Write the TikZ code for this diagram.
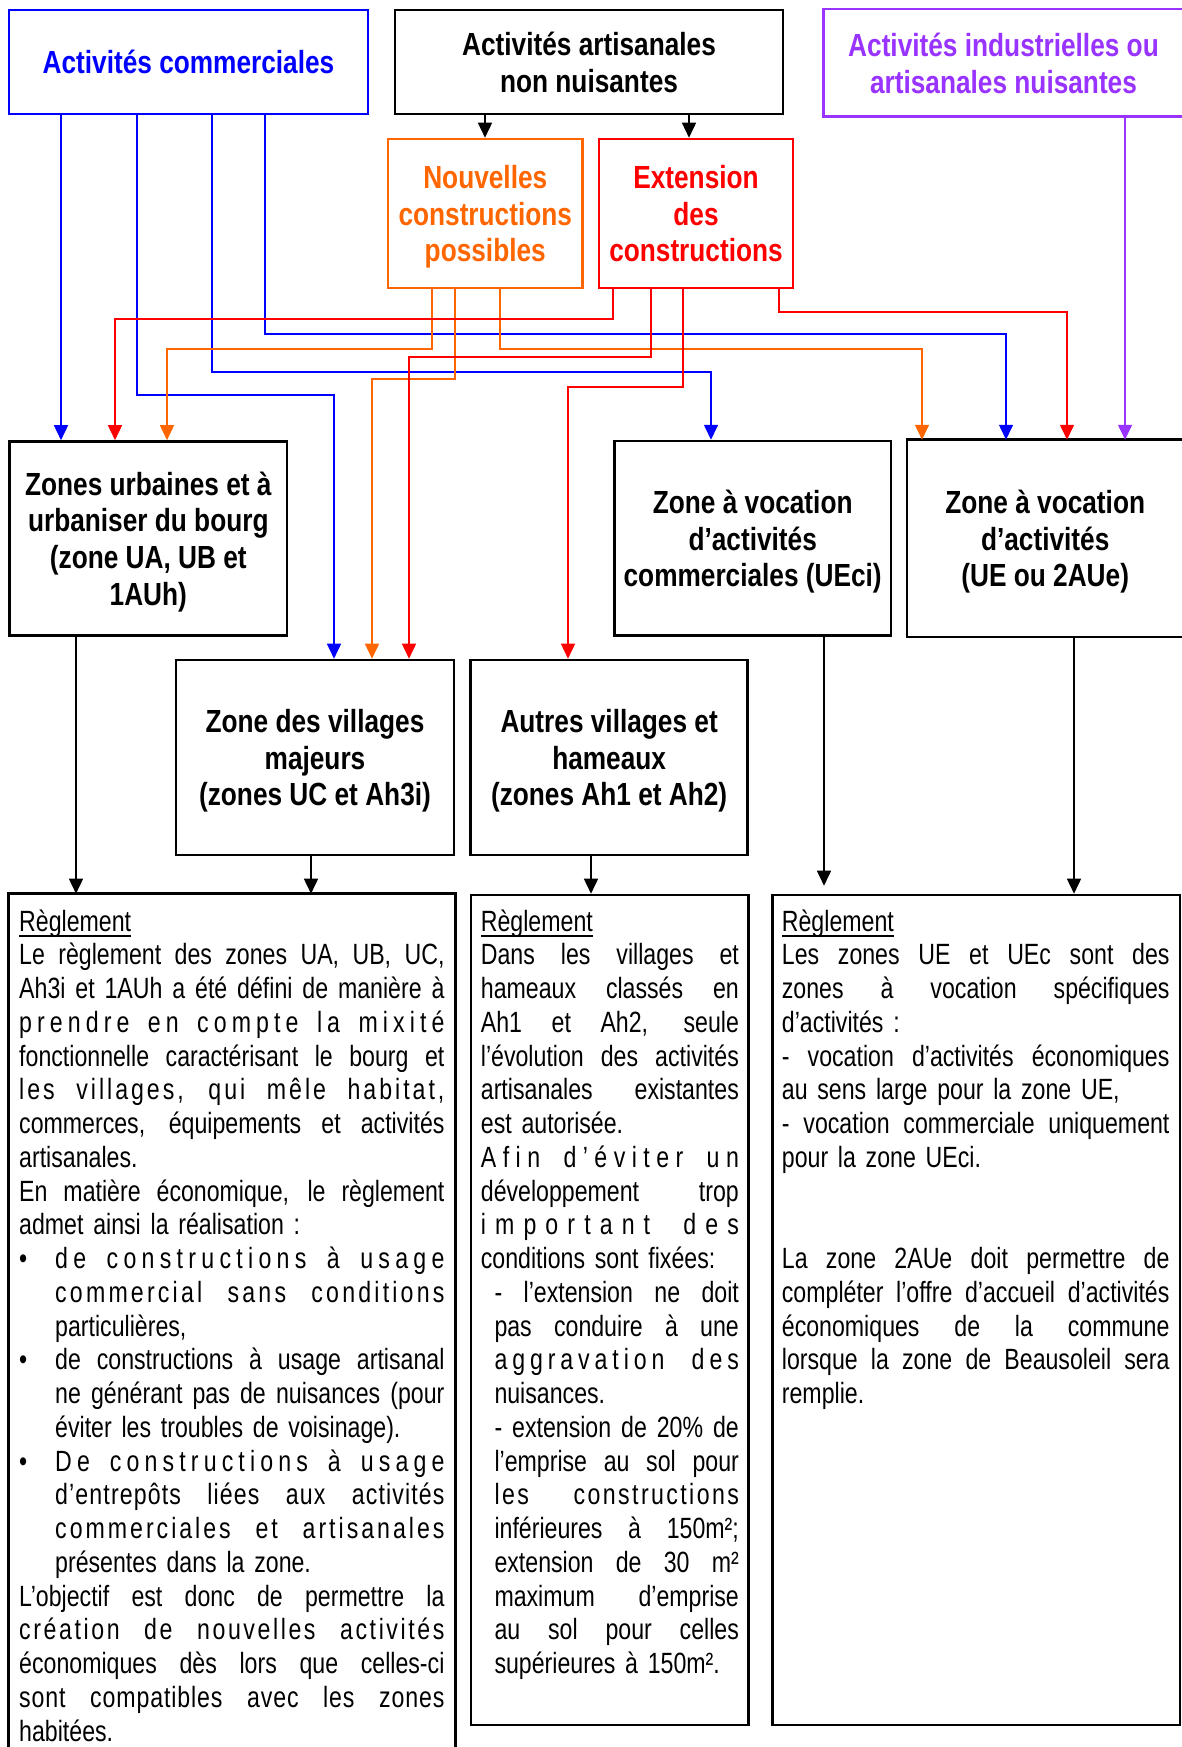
\documentclass[tikz,border=0pt]{standalone}
\usepackage{fontspec}
\setmainfont{Liberation Sans}[FakeStretch=0.79]
\newfontfamily\titlefam{Liberation Sans}[FakeStretch=0.82]
\usetikzlibrary{arrows.meta}

\definecolor{cblue}{RGB}{0,0,255}
\definecolor{corange}{RGB}{255,102,0}
\definecolor{cred}{RGB}{255,0,0}
\definecolor{cpurple}{RGB}{153,51,255}

\newlength\lw
\newcommand\bodyfont{\fontsize{29.3pt}{33.75pt}\selectfont}
\newcommand\titlefont{\titlefam\bfseries\fontsize{32pt}{36.8pt}\selectfont}
\newcommand\ulword[1]{\leavevmode\setbox0\hbox{#1}\rlap{\rule[-5.5pt]{\wd0}{1.8pt}}\box0}
\newcommand\bul{\makebox[36pt][l]{•}}
\newcommand\hind{\hspace*{36pt}}
\newcommand\mind{\hspace*{13.6pt}}

% justified line, and justified line with extra tracking
\ExplSyntaxOn
\box_new:N \l__rg_tmp_box
\fp_new:N \l__rg_wz_fp
\fp_new:N \l__rg_goal_fp
\fp_new:N \g__rg_ls_fp
\fp_new:N \g__rg_wo_fp
\dim_new:N \l__rg_w_dim
\cs_new_protected:Npn \__rg_spaces:
  {
    \spaceskip = \fontdimen2\font plus 1fil \relax
    \xspaceskip = \spaceskip
  }
\cs_new_protected:Npn \__rg_fill:nn #1#2
  {
    \mode_leave_vertical:
    \hbox_to_wd:nn {#1} { \__rg_spaces: #2 }
  }
\cs_new_protected:Npn \__rg_track:n #1
  { \use:e { \exp_not:N \addfontfeature { LetterSpace = \fp_eval:n { round(#1, 3) } } } }
\NewDocumentCommand \jline { O{\lw} m }
  { \__rg_fill:nn {#1} {#2} }
\NewDocumentCommand \sline { O{\lw} m m }
  {
    \dim_set:Nn \l__rg_w_dim {#1}
    \hbox_set:Nn \l__rg_tmp_box { \__rg_spaces: #3 }
    \fp_set:Nn \l__rg_wz_fp { \dim_to_fp:n { \box_wd:N \l__rg_tmp_box } }
    \fp_set:Nn \l__rg_goal_fp { max(0, ( \dim_to_fp:n {\l__rg_w_dim} - \l__rg_wz_fp ) * (#2) ) }
    \fp_gset:Nn \g__rg_ls_fp { \l__rg_goal_fp / ( \tl_count:n {#3} ) / 29.3 * 100 }
    \group_begin:
      \__rg_track:n { \g__rg_ls_fp }
      \hbox_set:Nn \l__rg_tmp_box { \__rg_spaces: #3 }
      \fp_gset:Nn \g__rg_wo_fp { \dim_to_fp:n { \box_wd:N \l__rg_tmp_box } }
    \group_end:
    \fp_compare:nT { \g__rg_wo_fp - \l__rg_wz_fp > 0.01 }
      { \fp_gset:Nn \g__rg_ls_fp { \g__rg_ls_fp * \l__rg_goal_fp / ( \g__rg_wo_fp - \l__rg_wz_fp ) } }
    \group_begin:
      \__rg_track:n { \g__rg_ls_fp }
      \__rg_fill:nn { \l__rg_w_dim } {#3}
    \group_end:
  }
\ExplSyntaxOff

\tikzset{
  box/.style={draw, line width=2.6pt, inner sep=0pt, align=center, font=\titlefont, text depth=0pt},
  conn/.style={line width=1.6pt, line join=miter, -{Triangle[length=15pt,width=14pt]}},
  regtext/.style={anchor=north west, inner sep=0pt, font=\bodyfont},
}

\begin{document}
\begin{tikzpicture}[x=1pt,y=-1pt]
\fill[white] (0,0) rectangle (1182,1747);
\useasboundingbox (0,0) rectangle (1182,1747);

% activity sources
\node[box, draw=cblue, text=cblue, minimum width=359pt, minimum height=104pt] (com) at (188.5,62) {Activités commerciales};
\node[box, minimum width=388pt, minimum height=104pt] (art) at (589,62) {Activités artisanales\\non nuisantes};
\node[box, draw=none, text=cpurple, minimum width=357pt, minimum height=105pt] (ind) at (1003.5,63) {Activités industrielles ou\\artisanales nuisantes};
\draw[cpurple, line width=2.6pt] ([xshift=6pt]ind.north east) -- (ind.north west) -- (ind.south west) -- ([xshift=6pt]ind.south east);

\node[box, draw=corange, text=corange, minimum width=194.5pt, minimum height=149pt] (nou) at (485.25,213.5) {Nouvelles\\constructions\\possibles};
\node[box, draw=cred, text=cred, minimum width=194pt, minimum height=149pt] (ext) at (696,213.5) {Extension\\des\\constructions};

% zones
\node[box, minimum width=277.4pt, minimum height=194.2pt] (zu) at (148.3,538.6) {Zones urbaines et à\\urbaniser du bourg\\(zone UA, UB et\\1AUh)};
\node[box, minimum width=278pt, minimum height=195pt] (vm) at (315,757.5) {Zone des villages\\majeurs\\(zones UC et Ah3i)};
\node[box, minimum width=277pt, minimum height=195pt] (av) at (609.15,757.5) {Autres villages et\\hameaux\\(zones Ah1 et Ah2)};
\node[box, minimum width=276.6pt, minimum height=194.7pt] (uec) at (752.7,538.4) {Zone à vocation\\d’activités\\commerciales (UEci)};
\node[box, draw=none, minimum width=273.6pt, minimum height=194.7pt] (ue) at (1045.2,538.4) {Zone à vocation\\d’activités\\(UE ou 2AUe)};
\draw[line width=2.6pt] ([xshift=6pt]ue.north east) -- (ue.north west) -- (ue.south west) -- ([xshift=6pt]ue.south east);

% rule boxes
\node[box, draw=none, minimum width=444pt, minimum height=852pt] (lreg) at (232,1321) {};
\draw[line width=2.6pt] ([yshift=-6pt]lreg.south west) -- (lreg.north west) -- (lreg.north east) -- ([yshift=-6pt]lreg.south east);
\node[box, minimum width=277.7pt, minimum height=830pt] (mreg) at (609.85,1310) {};
\node[box, minimum width=407.3pt, minimum height=830pt] (rreg) at (976.35,1310) {};

% black links
\draw[conn] (485,0 |- art.south) -- (485,0 |- nou.north);
\draw[conn] (689,0 |- art.south) -- (689,0 |- ext.north);
\draw[conn] (76,0 |- zu.south) -- (76,0 |- lreg.north);
\draw[conn] (311,0 |- vm.south) -- (311,0 |- lreg.north);
\draw[conn] (591,0 |- av.south) -- (591,0 |- mreg.north);
\draw[conn, shorten >=8pt] (824,0 |- uec.south) -- (824,0 |- rreg.north);
\draw[conn] (1074,0 |- ue.south) -- (1074,0 |- rreg.north);

% commercial activities
\draw[conn, cblue] (61,0 |- com.south) -- (61,0 |- zu.north);
\draw[conn, cblue] (137,0 |- com.south) |- (334,395) -- (334,0 |- vm.north);
\draw[conn, cblue] (212,0 |- com.south) |- (711,372) -- (711,0 |- uec.north);
\draw[conn, cblue] (265,0 |- com.south) |- (1006,334) -- (1006,0 |- ue.north);

% new constructions
\draw[conn, corange] (432,0 |- nou.south) |- (167,349) -- (167,0 |- zu.north);
\draw[conn, corange] (455,0 |- nou.south) |- (372,379) -- (372,0 |- vm.north);
\draw[conn, corange] (500,0 |- nou.south) |- (922,349) -- (922,0 |- ue.north);

% extensions
\draw[conn, cred] (613,0 |- ext.south) |- (115,319) -- (115,0 |- zu.north);
\draw[conn, cred] (651,0 |- ext.south) |- (409,357) -- (409,0 |- vm.north);
\draw[conn, cred] (683,0 |- ext.south) |- (568,387) -- (568,0 |- av.north);
\draw[conn, cred] (779,0 |- ext.south) |- (1067,312) -- (1067,0 |- ue.north);

% nuisance activities
\draw[conn, cpurple] (1125,0 |- ind.south) -- (1125,0 |- ue.north);

% rule texts
\node[regtext, text width=425.3pt] (ltxt) at (19,907.4) {%
\setlength\lw{425.3pt}\setlength\parindent{0pt}\setlength\parskip{0pt}%
\ulword{Règlement}\strut\par
\jline{Le règlement des zones UA, UB, UC,}\par
\jline{Ah3i et 1AUh a été défini de manière à}\par
\sline{0.8}{prendre en compte la mixité}\par
\jline{fonctionnelle caractérisant le bourg et}\par
\sline{0.6}{les villages, qui mêle habitat,}\par
\jline{commerces, équipements et activités}\par
artisanales.\par
\jline{En matière économique, le règlement}\par
admet ainsi la réalisation :\par
\bul\sline[389.3pt]{0.8}{de constructions à usage}\par
\hind\sline[389.3pt]{0.7}{commercial sans conditions}\par
\hind particulières,\par
\bul\jline[389.3pt]{de constructions à usage artisanal}\par
\hind\jline[389.3pt]{ne générant pas de nuisances (pour}\par
\hind éviter les troubles de voisinage).\par
\bul\sline[389.3pt]{0.8}{De constructions à usage}\par
\hind\sline[389.3pt]{0.35}{d’entrepôts liées aux activités}\par
\hind\sline[389.3pt]{0.7}{commerciales et artisanales}\par
\hind présentes dans la zone.\par
\jline{L’objectif est donc de permettre la}\par
\sline{0.6}{création de nouvelles activités}\par
\jline{économiques dès lors que celles-ci}\par
\sline{0.25}{sont compatibles avec les zones}\par
habitées.\par};

\node[regtext, text width=258pt] (mtxt) at (480.7,907.4) {%
\setlength\lw{258pt}\setlength\parindent{0pt}\setlength\parskip{0pt}%
\ulword{Règlement}\strut\par
\jline{Dans les villages et}\par
\jline{hameaux classés en}\par
\jline{Ah1 et Ah2, seule}\par
\jline{l’évolution des activités}\par
\jline{artisanales existantes}\par
est autorisée.\par
\sline{0.8}{Afin d’éviter un}\par
\jline{développement trop}\par
\sline{0.85}{important des}\par
conditions sont fixées:\par
\mind\jline[244.4pt]{- l’extension ne doit}\par
\mind\jline[244.4pt]{pas conduire à une}\par
\mind\sline[244.4pt]{0.8}{aggravation des}\par
\mind nuisances.\par
\mind\jline[244.4pt]{- extension de 20\% de}\par
\mind\jline[244.4pt]{l’emprise au sol pour}\par
\mind\sline[244.4pt]{0.5}{les constructions}\par
\mind\jline[244.4pt]{inférieures à 150m²;}\par
\mind\jline[244.4pt]{extension de 30 m²}\par
\mind\jline[244.4pt]{maximum d’emprise}\par
\mind\jline[244.4pt]{au sol pour celles}\par
\mind supérieures à 150m².\par};

\node[regtext, text width=387.6pt] (rtxt) at (781.7,907.4) {%
\setlength\lw{387.6pt}\setlength\parindent{0pt}\setlength\parskip{0pt}%
\ulword{Règlement}\strut\par
\jline{Les zones UE et UEc sont des}\par
\jline{zones à vocation spécifiques}\par
d’activités :\par
\jline{- vocation d’activités économiques}\par
au sens large pour la zone UE,\par
\jline{- vocation commerciale uniquement}\par
pour la zone UEci.\par
\strut\par
\strut\par
\jline{La zone 2AUe doit permettre de}\par
\jline{compléter l’offre d’accueil d’activités}\par
\jline{économiques de la commune}\par
\jline{lorsque la zone de Beausoleil sera}\par
remplie.\par};
\end{tikzpicture}
\end{document}
